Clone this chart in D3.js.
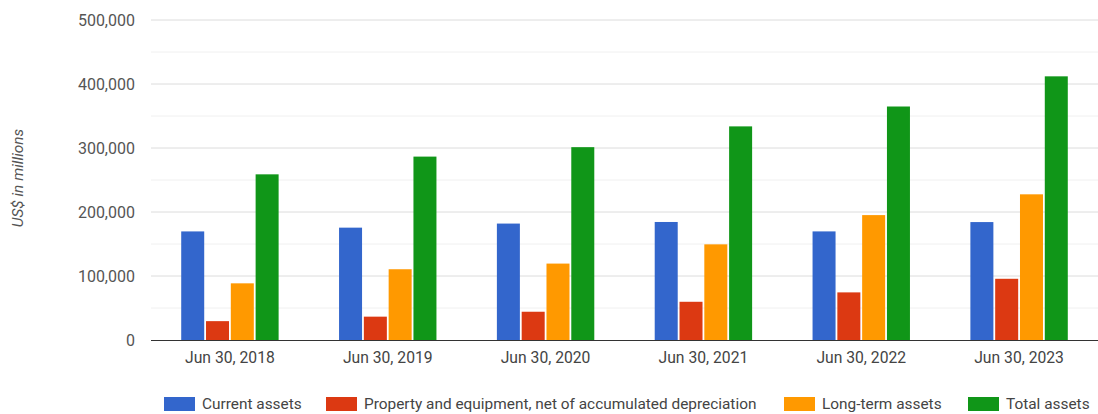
<!DOCTYPE html>
<html><head><meta charset="utf-8">
<script src="https://cdn.jsdelivr.net/npm/d3@7"></script>
<style>body{margin:0;background:#fff;}svg{display:block;font-family:Roboto,Arial,sans-serif;}</style>
</head><body>
<svg id="c" width="1098" height="414"></svg>
<script>
const categories = ["Jun 30, 2018","Jun 30, 2019","Jun 30, 2020","Jun 30, 2021","Jun 30, 2022","Jun 30, 2023"];
const seriesNames = ["Current assets","Property and equipment, net of accumulated depreciation","Long-term assets","Total assets"];
const currentAssets = [169662,175552,181915,184406,169684,184257];
const ppe = [29460,36477,44151,59715,74398,95641];
const longTerm = [88542,110556,119396,149452,195156,227627];
const totalAssets = [258848,286556,301311,333779,364840,411976];
const colors = ["#3366cc","#dc3912","#ff9900","#109618"];
const yTicks = [0,100000,200000,300000,400000,500000];
const yMinor = [50000,150000,250000,350000,450000];
const series = [currentAssets, ppe, longTerm, totalAssets];

const svg = d3.select("#c");
const L=151, R=1098, T=20, B=340;
const x = d3.scaleBand().domain(categories).range([L,R]).paddingInner(0).paddingOuter(0);
const barW = 23, gap = 1.8;
const groupW = 4*barW + 3*gap;
const x1 = d3.scaleBand().domain(d3.range(4))
  .range([(x.bandwidth()-groupW)/2, (x.bandwidth()+groupW)/2])
  .paddingInner(gap/(barW+gap)).paddingOuter(0);
const y = d3.scaleLinear().domain([0,500000]).range([B,T]);

svg.append("g").selectAll("line").data(yMinor).join("line")
  .attr("x1",L).attr("x2",R).attr("y1",d=>y(d)).attr("y2",d=>y(d)).attr("stroke","#f0f0f0");
svg.append("g").selectAll("line").data(yTicks.slice(1)).join("line")
  .attr("x1",L).attr("x2",R).attr("y1",d=>y(d)).attr("y2",d=>y(d)).attr("stroke","#dcdcdc");

const fmt = d3.format(",");
svg.append("g").selectAll("text").data(yTicks).join("text")
  .attr("x",135).attr("y",d=>y(d)).attr("dy","0.35em").attr("text-anchor","end")
  .attr("fill","#555").attr("font-size",16).text(d=>fmt(d));

svg.append("text").attr("transform","translate(23,178) rotate(-90)")
  .attr("text-anchor","middle").attr("font-style","italic").attr("font-size",15.4)
  .attr("fill","#555").text("US$ in millions");

const groups = svg.append("g").selectAll("g").data(categories).join("g")
  .attr("transform",d=>`translate(${x(d)},0)`);
groups.selectAll("rect").data((d,i)=>series.map((s,k)=>({k,v:s[i]}))).join("rect")
  .attr("x",d=>x1(d.k)).attr("width",x1.bandwidth())
  .attr("y",d=>y(d.v)).attr("height",d=>B-y(d.v)).attr("fill",d=>colors[d.k]);

svg.append("line").attr("x1",L).attr("x2",R).attr("y1",B+0.5).attr("y2",B+0.5).attr("stroke","#333");

svg.append("g").selectAll("text").data(categories).join("text")
  .attr("x",d=>x(d)+x.bandwidth()/2).attr("y",358).attr("dy","0.35em")
  .attr("text-anchor","middle").attr("fill","#444").attr("font-size",15.7).text(d=>d);

const legX = [164,326,784,968];
const leg = svg.append("g").selectAll("g").data(seriesNames).join("g")
  .attr("transform",(d,i)=>`translate(${legX[i]},397)`);
leg.append("rect").attr("width",31).attr("height",14).attr("fill",(d,i)=>colors[i]);
leg.append("text").attr("x",38).attr("y",7).attr("dy","0.35em").attr("font-size",15.4).attr("fill","#444").text(d=>d);
</script>
</body></html>
